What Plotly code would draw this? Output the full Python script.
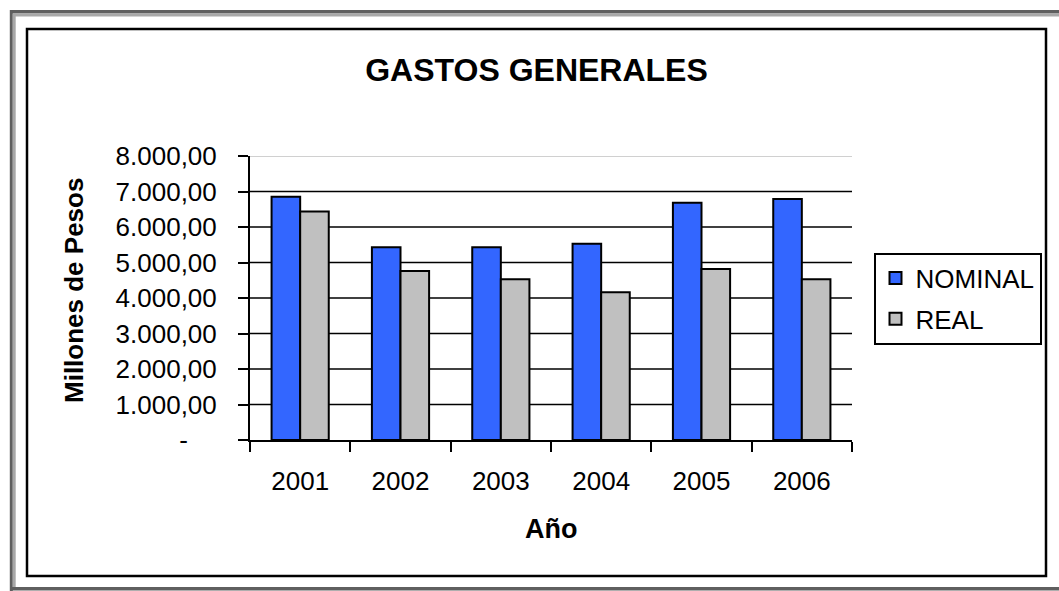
import plotly.graph_objects as go

years = ["2001", "2002", "2003", "2004", "2005", "2006"]
nominal = [6850, 5430, 5430, 5530, 6685, 6790]
real = [6440, 4760, 4525, 4165, 4820, 4525]
y_tickvals = [0, 1000, 2000, 3000, 4000, 5000, 6000, 7000, 8000]
y_ticktext = ["-\u00a0\u00a0\u00a0\u00a0", "1.000,00", "2.000,00", "3.000,00", "4.000,00",
              "5.000,00", "6.000,00", "7.000,00", "8.000,00"]

FONT = "Liberation Sans, Arial, sans-serif"
W_FIG, H_FIG = 1059, 591
L, R, T, B = 250, 207, 156, 151
PW = W_FIG - L - R
PH = H_FIG - T - B


def px2x(px):
    return (px - L) / PW


def px2y(py):
    return (H_FIG - B - py) / PH


fig = go.Figure()
fig.add_trace(go.Bar(name="NOMINAL", x=years, y=nominal, legendgroup="n",
                     marker=dict(color="#3366FF", line=dict(color="#000000", width=2))))
fig.add_trace(go.Bar(name="REAL", x=years, y=real, legendgroup="r",
                     marker=dict(color="#C0C0C0", line=dict(color="#000000", width=2))))

shapes = []
# gridlines
for v in y_tickvals[1:]:
    shapes.append(dict(type="line", xref="paper", yref="y", x0=0, x1=1, y0=v, y1=v,
                       line=dict(color="#C0C0C0" if v == y_tickvals[-1] else "#000000", width=1.5),
                       layer="below"))
# inner frame
shapes.append(dict(type="rect", xref="paper", yref="paper",
                   x0=px2x(27), x1=px2x(1046), y0=px2y(576), y1=px2y(29),
                   line=dict(color="#000000", width=2.5), layer="below"))
# outer frame
dark, light = "#5f5f5f", "#a8a8a8"
shapes += [
    dict(type="line", xref="paper", yref="paper", x0=px2x(10), x1=px2x(1060), y0=px2y(11.7), y1=px2y(11.7),
         line=dict(color=dark, width=3.4)),
    dict(type="line", xref="paper", yref="paper", x0=px2x(13), x1=px2x(1060), y0=px2y(15), y1=px2y(15),
         line=dict(color=light, width=3)),
    dict(type="line", xref="paper", yref="paper", x0=px2x(11.3), x1=px2x(11.3), y0=px2y(10), y1=px2y(592),
         line=dict(color=dark, width=3)),
    dict(type="line", xref="paper", yref="paper", x0=px2x(14.2), x1=px2x(14.2), y0=px2y(13.4), y1=px2y(587),
         line=dict(color=light, width=3)),
    dict(type="line", xref="paper", yref="paper", x0=px2x(10), x1=px2x(1060), y0=px2y(588.8), y1=px2y(588.8),
         line=dict(color=dark, width=3.5)),
]

annotations = [
    dict(text="<b>Millones de Pesos</b>", xref="paper", yref="paper", x=px2x(74), y=px2y(290),
         textangle=-90, showarrow=False, font=dict(family=FONT, size=26, color="#000000"),
         xanchor="center", yanchor="middle"),
    dict(text="<b>Año</b>", xref="paper", yref="paper", x=px2x(551), y=px2y(529),
         showarrow=False, font=dict(family=FONT, size=27, color="#000000"),
         xanchor="center", yanchor="middle"),
]

fig.update_layout(
    width=W_FIG, height=H_FIG,
    margin=dict(l=L, r=R, t=T, b=B, pad=0),
    paper_bgcolor="#FFFFFF", plot_bgcolor="#FFFFFF",
    font=dict(family=FONT, size=26, color="#000000"),
    title=dict(text="<b>GASTOS GENERALES</b>", xref="container", yref="container",
               x=536.5 / W_FIG, y=1 - 69.5 / H_FIG, xanchor="center", yanchor="middle",
               font=dict(family=FONT, size=32, color="#000000")),
    barmode="group", bargap=0.43, bargroupgap=0,
    showlegend=True,
    legend=dict(x=px2x(873.5), y=px2y(252.5), xanchor="left", yanchor="top",
                bgcolor="#FFFFFF", bordercolor="#000000", borderwidth=2,
                font=dict(family=FONT, size=26, color="#000000"),
                itemsizing="constant", traceorder="grouped", tracegroupgap=4),
    shapes=shapes,
    annotations=annotations,
)
fig.update_xaxes(type="category", showgrid=False, showline=True, linecolor="#000000", linewidth=2,
                 ticks="outside", tickson="boundaries", ticklen=10, tickwidth=2, tickcolor="#000000",
                 tickfont=dict(family=FONT, size=26, color="#000000"), ticklabelstandoff=17,
                 zeroline=False)
fig.update_yaxes(range=[0, 8000], showgrid=False, showline=True, linecolor="#000000", linewidth=2,
                 tickvals=y_tickvals, ticktext=y_ticktext,
                 ticks="outside", ticklen=10, tickwidth=2, tickcolor="#000000",
                 tickfont=dict(family=FONT, size=26, color="#000000"), ticklabelstandoff=16,
                 zeroline=False)

fig.write_html("out.html")
